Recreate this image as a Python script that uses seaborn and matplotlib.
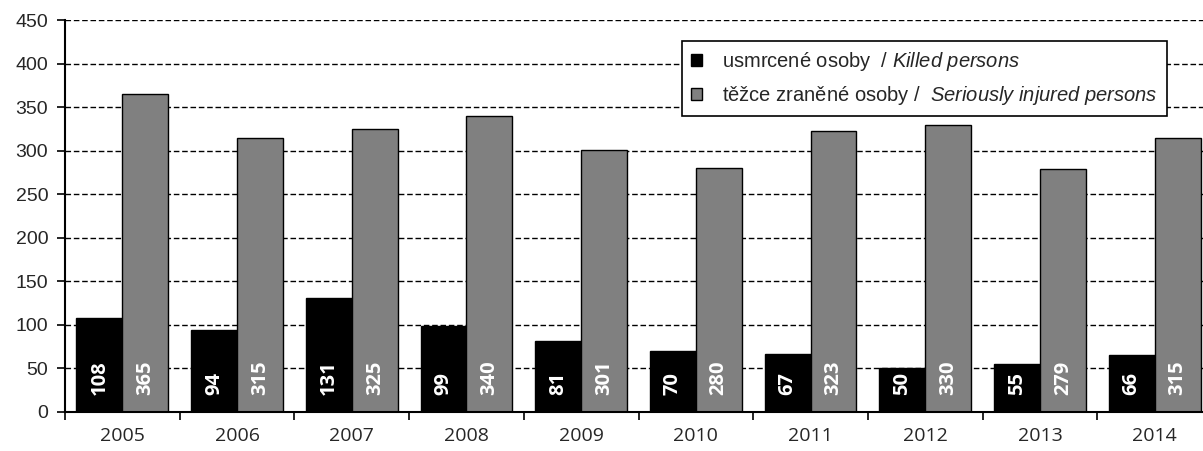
import pandas as pd
import numpy as np
import matplotlib
matplotlib.use("Agg")
import matplotlib.pyplot as plt
import seaborn as sns

years = ['2005', '2006', '2007', '2008', '2009', '2010', '2011', '2012', '2013', '2014']
killed = [108, 94, 131, 99, 81, 70, 67, 50, 55, 66]
injured = [365, 315, 325, 340, 301, 280, 323, 330, 279, 315]
series = ['killed', 'injured']
legend_labels = [
    r'usmrcené osoby  / $\mathit{Killed\ persons}$',
    r'těžce zraněné osoby /  $\mathit{Seriously\ injured\ persons}$',
]
colors = ['#000000', '#808080']

df = pd.DataFrame({
    'year': years * 2,
    'value': killed + injured,
    'series': [series[0]] * len(years) + [series[1]] * len(years),
})

sns.set_style('white')
plt.rcParams['font.family'] = ['Liberation Sans', 'DejaVu Sans']
plt.rcParams['mathtext.fontset'] = 'custom'
plt.rcParams['mathtext.it'] = 'Liberation Sans:italic'
plt.rcParams['mathtext.rm'] = 'Liberation Sans'

fig = plt.figure(figsize=(12.03, 4.51), dpi=100)
ax = fig.add_axes([65 / 1203, 1 - 412 / 451, 1147 / 1203, 392 / 451])

sns.barplot(data=df, x='year', y='value', hue='series', hue_order=series,
            palette=colors, width=0.8, edgecolor='black', linewidth=1,
            saturation=1, ax=ax, legend=False)

# value labels inside bars
for container in ax.containers:
    for bar, val in zip(container, container.datavalues):
        ax.text(bar.get_x() + bar.get_width() / 2, 19, f'{int(val)}',
                rotation=90, ha='center', va='bottom', color='white',
                fontsize=14.5, fontweight='bold', family='Open Sans')

ax.set_ylim(0, 450)
ax.set_xlim(-0.5, len(years) - 0.5)
ax.set_yticks(np.arange(0, 451, 50))
ax.yaxis.grid(True, linestyle=(0, (4, 2)), color='black', linewidth=1)
ax.set_axisbelow(True)
ax.set_xlabel('')
ax.set_ylabel('')

for side in ['top', 'right']:
    ax.spines[side].set_visible(False)
for side in ['left', 'bottom']:
    ax.spines[side].set_color('black')
    ax.spines[side].set_linewidth(1.5)

ax.tick_params(axis='y', which='major', length=6, width=1.2, color='black',
               direction='out', left=True, labelsize=14, pad=6)
ax.tick_params(axis='x', which='major', length=0, labelsize=14, pad=11)
ax.set_xticks(np.arange(-0.5, len(years), 1.0), minor=True)
ax.tick_params(axis='x', which='minor', length=6, width=1.2, color='black',
               direction='out', bottom=True)
for lbl in ax.get_xticklabels():
    lbl.set_family('Open Sans')

handles = [plt.Rectangle((0, 0), 1, 1, facecolor=c, edgecolor='black', linewidth=1)
           for c in colors]
leg = ax.legend(handles, legend_labels, loc='upper left',
                bbox_to_anchor=((682 - 65) / 1147, (412 - 41) / 392),
                frameon=True, fancybox=False, shadow=False, fontsize=14.5,
                handlelength=0.55, handleheight=0.55, handletextpad=1.0,
                borderpad=0.45, labelspacing=0.55, borderaxespad=0)
leg.get_frame().set_edgecolor('black')
leg.get_frame().set_linewidth(1.2)
leg.get_frame().set_alpha(1)

fig.savefig('out.png', dpi=100)
